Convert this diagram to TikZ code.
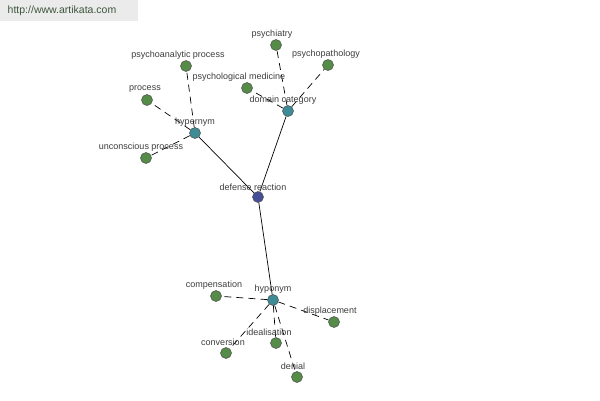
\documentclass[tikz,border=0pt]{standalone}
\usepackage{fontspec}
\setmainfont{Liberation Sans}
\begin{document}
\begin{tikzpicture}[x=1pt,y=-1pt,
  dot/.style={circle,draw=black!70,line width=0.5pt,minimum size=11pt,inner sep=0pt},
  leaf/.style={dot,fill={rgb,255:red,84;green,140;blue,72}},
  hub/.style={dot,fill={rgb,255:red,62;green,140;blue,150}},
  center/.style={dot,fill={rgb,255:red,70;green,80;blue,150}},
  lbl/.style={font=\fontsize{9}{10}\selectfont,text={rgb,255:red,60;green,60;blue,60},inner sep=0pt},
  dsh/.style={draw=black,line width=0.7pt,dash pattern=on 7pt off 5pt},
  sol/.style={draw=black,line width=0.7pt}]
\useasboundingbox (0,0) rectangle (600,400);
\fill[black!8] (0,0) rectangle (138,21);
\node[font=\fontsize{10.5}{12}\selectfont,text={rgb,255:red,60;green,85;blue,60},inner sep=0pt] (url) at (62,11) {http://www.artikata.com};
% nodes
\node[center] (dr) at (258,197) {};
\node[hub] (hyper) at (195,133) {};
\node[hub] (dom) at (288,111) {};
\node[hub] (hypo) at (273,300) {};
\node[leaf] (psychiatry) at (276,45) {};
\node[leaf] (psychopath) at (328,65) {};
\node[leaf] (psychmed) at (247,88) {};
\node[leaf] (psychoan) at (186,66) {};
\node[leaf] (process) at (147,100) {};
\node[leaf] (uncons) at (146,158) {};
\node[leaf] (comp) at (216,296) {};
\node[leaf] (displ) at (334,322) {};
\node[leaf] (ideal) at (276,343) {};
\node[leaf] (conv) at (226,353) {};
\node[leaf] (denial) at (297,377) {};
% edges
\draw[sol] (dr) -- (hyper);
\draw[sol] (dr) -- (dom);
\draw[sol] (dr) -- (hypo);
\draw[dsh] (hyper) -- (psychoan);
\draw[dsh] (hyper) -- (process);
\draw[dsh] (hyper) -- (uncons);
\draw[dsh] (dom) -- (psychiatry);
\draw[dsh] (dom) -- (psychopath);
\draw[dsh] (dom) -- (psychmed);
\draw[dsh] (hypo) -- (comp);
\draw[dsh] (hypo) -- (displ);
\draw[dsh] (hypo) -- (ideal);
\draw[dsh] (hypo) -- (conv);
\draw[dsh] (hypo) -- (denial);
% labels
\node[lbl] (l-dr) at (253,187) {defense reaction};
\node[lbl] (l-hyper) at (195,122) {hypernym};
\node[lbl] (l-dom) at (283,100) {domain category};
\node[lbl] (l-hypo) at (273,289) {hyponym};
\node[lbl] (l-psychiatry) at (272,34) {psychiatry};
\node[lbl] (l-psychopath) at (326,54) {psychopathology};
\node[lbl] (l-psychmed) at (239,77) {psychological medicine};
\node[lbl] (l-psychoan) at (178,55) {psychoanalytic process};
\node[lbl] (l-process) at (145,89) {process};
\node[lbl] (l-uncons) at (141,147) {unconscious process};
\node[lbl] (l-comp) at (214,285) {compensation};
\node[lbl] (l-displ) at (330,311) {displacement};
\node[lbl] (l-ideal) at (269,332) {idealisation};
\node[lbl] (l-conv) at (223,342) {conversion};
\node[lbl] (l-denial) at (293,366) {denial};
\end{tikzpicture}
\end{document}
